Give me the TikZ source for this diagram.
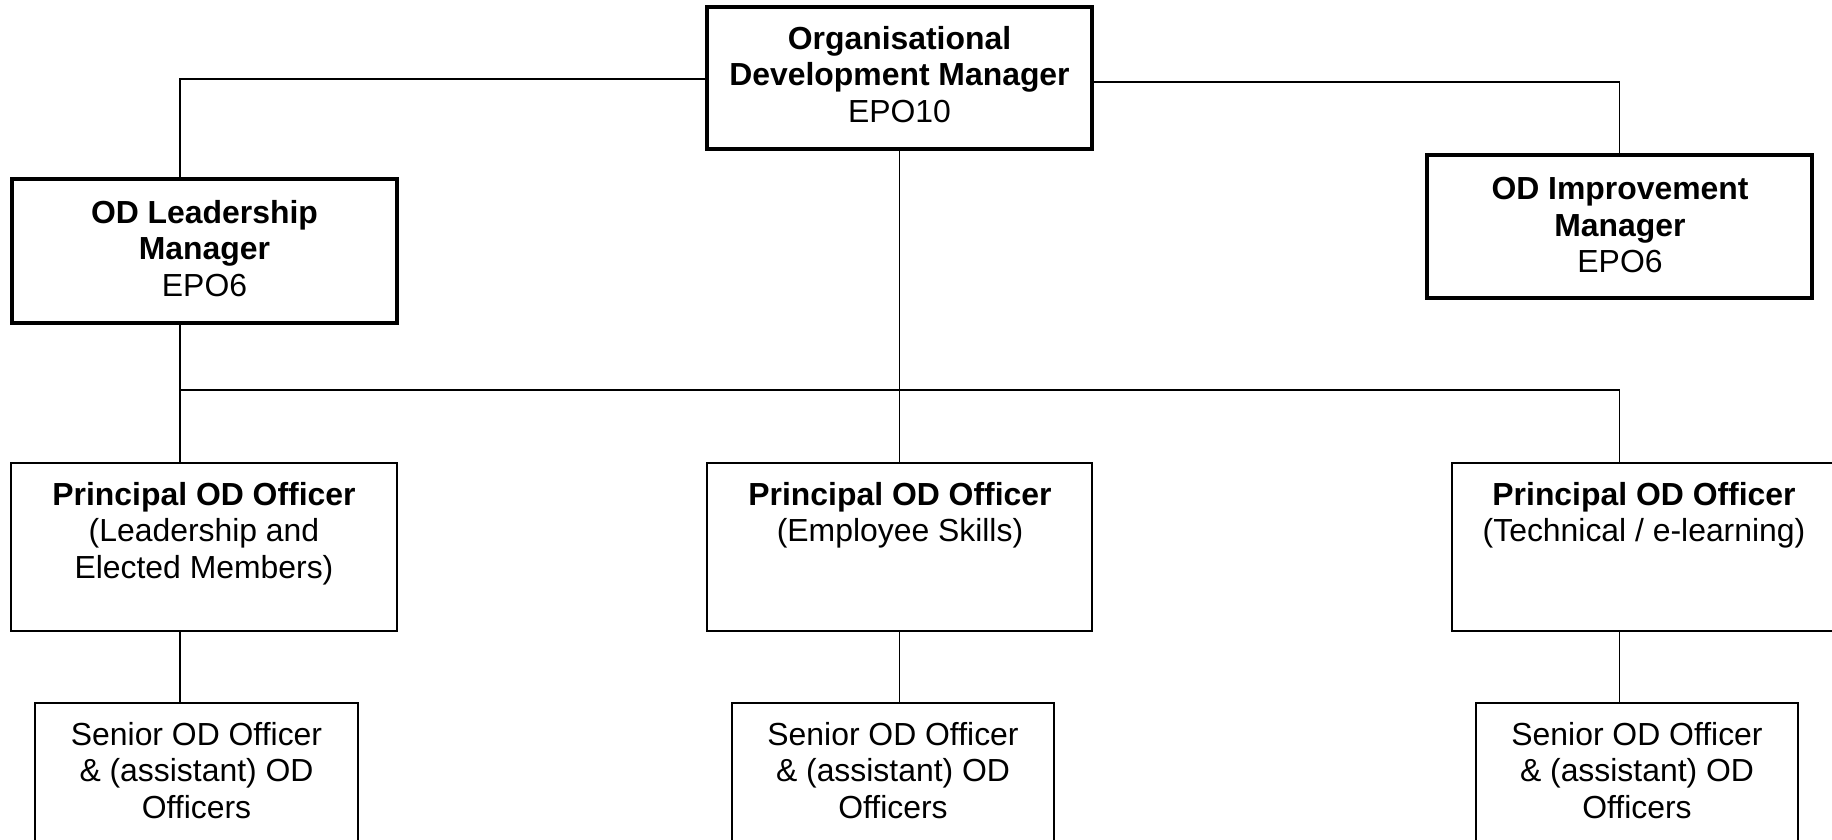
\documentclass[tikz,border=0pt]{standalone}
\usepackage{fontspec}
\setmainfont{Liberation Sans}
\begin{document}
\begin{tikzpicture}[x=1pt,y=-1pt,
  mgr/.style={draw, line width=4pt, inner sep=0pt},
  post/.style={draw, line width=1.7pt, inner sep=0pt},
  caption/.style={inner sep=0pt, align=center, anchor=north,
    font=\fontsize{31.9}{36.6}\selectfont},
  link/.style={line width=1.7pt}]
\useasboundingbox (0,0) rectangle (1832,840);
\clip (0,0) rectangle (1832,840);

% managers
\node[mgr, minimum width=385pt, minimum height=142pt] (odm) at (899.5,78) {};
\node[caption] (odmT) at (899.5,26) {\textbf{Organisational}\\\textbf{Development Manager}\\EPO10};

\node[mgr, minimum width=385pt, minimum height=144pt] (lm) at (204.5,251) {};
\node[caption] (lmT) at (204.5,200) {\textbf{OD Leadership}\\\textbf{Manager}\\EPO6};

\node[mgr, minimum width=385pt, minimum height=143pt] (rm) at (1619.5,226.5) {};
\node[caption] (rmT) at (1620,177) {\textbf{OD Improvement}\\\textbf{Manager}\\EPO6};

% principal officers
\node[post, minimum width=386pt, minimum height=168pt] (p1) at (204,547) {};
\node[caption] (p1T) at (204,482) {\textbf{Principal OD Officer}\\(Leadership and\\Elected Members)};

\node[post, minimum width=385pt, minimum height=168pt] (p2) at (899.5,547) {};
\node[caption] (p2T) at (900,482) {\textbf{Principal OD Officer}\\(Employee Skills)};

\node[post, minimum width=386pt, minimum height=168pt] (p3) at (1645,547) {};
\node[caption] (p3T) at (1644,482) {\textbf{Principal OD Officer}\\(Technical / e-learning)};

% senior and assistant officers
\node[post, minimum width=323pt, minimum height=167pt] (s1) at (196.5,786.5) {};
\node[caption] (s1T) at (196.5,722) {Senior OD Officer\\\& (assistant) OD\\Officers};

\node[post, minimum width=322pt, minimum height=167pt] (s2) at (893,786.5) {};
\node[caption] (s2T) at (893,722) {Senior OD Officer\\\& (assistant) OD\\Officers};

\node[post, minimum width=322pt, minimum height=167pt] (s3) at (1637,786.5) {};
\node[caption] (s3T) at (1637,722) {Senior OD Officer\\\& (assistant) OD\\Officers};

% connectors
\coordinate (colL) at (180,0);
\coordinate (bus) at (0,390);
\draw[link] ([yshift=-1pt]odm.west) -- ([yshift=-1pt]odm.west -| colL) -- (lm.north -| colL);
\draw[link] ([yshift=-4pt]odm.east) -- ([yshift=-4pt]odm.east -| rm.north) -- (rm.north);
\draw[link] (odm.south) -- (p2.north -| odm.south);
\draw[link] (lm.south -| colL) -- (p1.north -| colL);
\draw[link] (bus -| colL) -- (bus -| rm.north) -- (p3.north -| rm.north);
\draw[link] (p1.south -| colL) -- (s1.north -| colL);
\draw[link] (p2.south -| odm.south) -- (s2.north -| odm.south);
\draw[link] (p3.south -| rm.north) -- (s3.north -| rm.north);
\end{tikzpicture}
\end{document}
